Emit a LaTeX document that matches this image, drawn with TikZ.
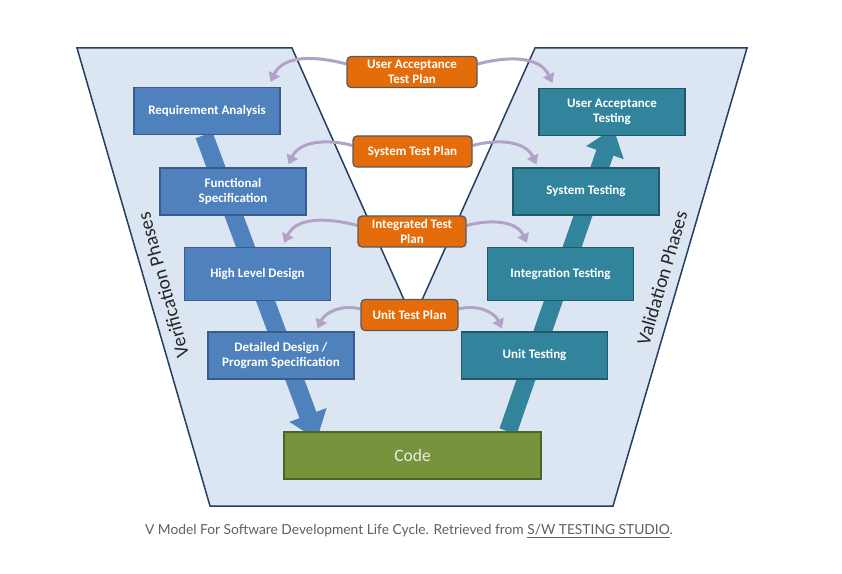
\documentclass[tikz,border=0pt]{standalone}
\usepackage{fontspec}
\setmainfont{Carlito}
\newfontfamily\capfont{Lato}
\usepackage{tikz}
\usetikzlibrary{shapes,arrows.meta,backgrounds}
\usetikzlibrary{positioning, calc}
\definecolor{panelfill}{HTML}{DCE6F2}
\definecolor{panelline}{HTML}{243F60}
\definecolor{verblue}{HTML}{4F81BD}
\definecolor{verline}{HTML}{385D8A}
\definecolor{valteal}{HTML}{31849B}
\definecolor{valline}{HTML}{215968}
\definecolor{codegreen}{HTML}{77933C}
\definecolor{codeline}{HTML}{4F6228}
\definecolor{planorange}{HTML}{E46C0A}
\definecolor{planline}{HTML}{595959}
\definecolor{lilac}{HTML}{B3A2C7}
\definecolor{capgrey}{HTML}{5F5F5F}
\tikzset{
  boxV/.style={ draw=verline, fill=verblue, line width=1.2pt, text=white, font=\bfseries\fontsize{13}{15.5}\selectfont, align=center, inner sep=0pt, minimum width=146pt, minimum height=47pt }
}
\tikzset{
  boxT/.style={ boxV, draw=valline, fill=valteal }
}
\tikzset{
  plan/.style={ draw=planline, fill=planorange, line width=1.2pt, rounded corners=4pt, text=white, font=\bfseries\fontsize{13}{15}\selectfont, align=center, inner sep=0pt, minimum height=31pt }
}
\tikzset{
  codebox/.style={ draw=codeline, fill=codegreen, line width=1.2pt, text=white!92!black, font=\fontsize{17.5}{20}\selectfont, minimum width=257pt, minimum height=47pt }
}
\tikzset{
  phase/.style={ font=\fontsize{19.5}{22}\selectfont, text=black!85 }
}
\tikzset{
  flowV/.style={ verblue, line width=18pt, -{Triangle[width=38pt, length=26pt]} },
  flowT/.style={ valteal, line width=18pt, -{Triangle[width=38pt, length=26pt]} },
  feed/.style={ lilac, line width=3pt, -{Triangle[width=12pt, length=9pt]} }
}

\begin{document}
\begin{tikzpicture}[x=1pt, y=1pt]
  \useasboundingbox (0,0) rectangle (842,573);

  % verification side
  \node[boxV] (req) at (207,462) {Requirement Analysis};
  \node[boxV] (fspec) at (233,381.5) {Functional\\Specification};
  \node[boxV, minimum height=53pt] (hld) at (257.5,299) {High Level Design};
  \node[boxV] (ddes) at (281,217.5) {Detailed Design /\\Program Specification};

  % validation side
  \node[boxT] (uat) at (612,461) {User Acceptance\\Testing};
  \node[boxT] (syst) at (586,381.5) {System Testing};
  \node[boxT, minimum height=53pt] (intt) at (560.5,299) {Integration Testing};
  \node[boxT] (unitt) at (534.5,217.5) {Unit Testing};

  \node[codebox] (code) at (412.5,117.5) {Code};

  % test plans
  \node[plan, minimum width=130pt] (uatp) at (412,501) {User Acceptance\\Test Plan};
  \node[plan, minimum width=119pt] (stp) at (412.5,421.5) {System Test Plan};
  \node[plan, minimum width=108pt] (itp) at (412,341.5) {Integrated Test\\Plan};
  \node[plan, minimum width=97pt] (utp) at (409.5,258) {Unit Test Plan};

  \node[phase, rotate=105.5] (verif) at (163,288) {Verification Phases};
  \node[phase, rotate=73.7] (valid) at (662,295) {Validation Phases};

  \begin{scope}[on background layer]
    \draw[panelline, fill=panelfill, line width=1.5pt, line join=miter]
      (77,525) -- (292,525) -- (413,253) -- (535,525) -- (747,525)
      -- (613,67) -- (210,67) -- cycle;
    \draw[flowV] ($(req.south west)!0.48!(req.south east)$)
      -- ($(code.north west)!0.13!(code.north east)+(0,-8)$);
    \draw[flowT] ($(code.north west)!0.87!(code.north east)$)
      -- ($(uat.south west)!0.51!(uat.south east)+(0,8)$);
    % plan to phase links
    \draw[feed] ([yshift=8pt]uatp.west) to[out=165, in=65] ($(req.north east)+(-10,5)$);
    \draw[feed] ([yshift=8pt]uatp.east) to[out=15, in=115] ($(uat.north west)+(14,5)$);
    \draw[feed] ([yshift=6pt]stp.west) to[out=165, in=65] ($(fspec.north east)+(-18,3)$);
    \draw[feed] ([yshift=6pt]stp.east) to[out=15, in=115] ($(syst.north west)+(24,3)$);
    \draw[feed] ([yshift=6pt]itp.west) to[out=165, in=65] ($(hld.north east)+(-47,4)$);
    \draw[feed] ([yshift=6pt]itp.east) to[out=15, in=115] ($(intt.north west)+(40,4)$);
    \draw[feed] ([yshift=6pt]utp.west) to[out=165, in=65] ($(ddes.north east)+(-37,3)$);
    \draw[feed] ([yshift=6pt]utp.east) to[out=15, in=115] ($(unitt.north west)+(41,3)$);
  \end{scope}

  \node[font=\capfont\fontsize{13.8}{15.5}\selectfont, text=capgrey] (caption) at (409,42)
    {V Model For Software Development Life Cycle. Retrieved from \underline{S/W TESTING STUDIO}.};
\end{tikzpicture}
\end{document}
